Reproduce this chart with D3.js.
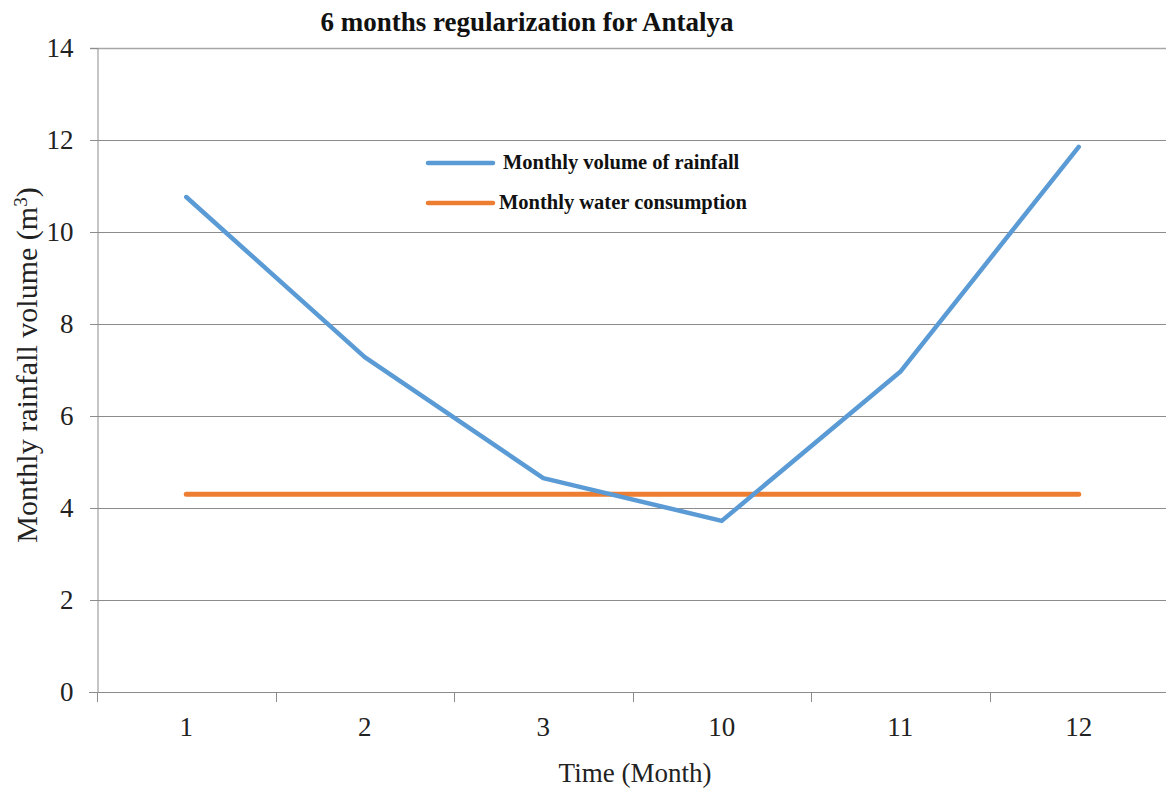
<!DOCTYPE html>
<html>
<head>
<meta charset="utf-8">
<script src="https://cdn.jsdelivr.net/npm/d3@7"></script>
<style>
  html, body { margin: 0; padding: 0; background: #fff; }
  svg { display: block; }
</style>
</head>
<body>
<svg id="chart" width="1166" height="790"></svg>
<script>
// Months shown on the axis
const months = ["1", "2", "3", "10", "11", "12"];
// Monthly volume of rainfall (m³)
const rainfall = [10.76, 7.28, 4.65, 3.72, 6.96, 11.85];
// Monthly water consumption (m³)
const consumption = [4.3, 4.3, 4.3, 4.3, 4.3, 4.3];
// Y axis ticks
const yTicks = [0, 2, 4, 6, 8, 10, 12, 14];

const svg = d3.select("#chart");
const serif = "'Liberation Serif', 'Times New Roman', serif";

const plotLeft = 97, plotRight = 1168, plotTop = 48, plotBottom = 692;

const x = d3.scaleBand().domain(months).range([plotLeft, plotRight]).padding(0);
const y = d3.scaleLinear().domain([0, 14]).range([plotBottom, plotTop]);
const cx = d => x(d) + x.bandwidth() / 2;

// Horizontal gridlines
svg.append("g")
  .selectAll("line")
  .data(yTicks.filter(t => t > 0))
  .join("line")
  .attr("x1", plotLeft - 7).attr("x2", 1166)
  .attr("y1", d => Math.round(y(d)) + 0.5).attr("y2", d => Math.round(y(d)) + 0.5)
  .attr("stroke", d => d === 14 ? "#a6a6a6" : "#8c8c8c")
  .attr("stroke-width", d => d === 14 ? 1.6 : 1);

// Y axis
const yAxis = svg.append("g")
  .attr("transform", `translate(${plotLeft + 0.5},0)`)
  .call(d3.axisLeft(y).tickValues(yTicks).tickSize(7).tickPadding(17));
yAxis.select(".domain").attr("stroke", "#8c8c8c");
yAxis.selectAll(".tick line").attr("stroke", "#8c8c8c");
yAxis.selectAll(".tick text")
  .attr("font-family", serif).attr("font-size", 27).attr("fill", "#222");

// X axis
const xAxis = svg.append("g")
  .attr("transform", `translate(0,${plotBottom + 0.5})`)
  .call(d3.axisBottom(x).tickSize(0).tickPadding(24));
xAxis.select(".domain").attr("stroke", "#8c8c8c").attr("d", `M${plotLeft - 8},0H1166`);
xAxis.selectAll(".tick text")
  .attr("font-family", serif).attr("font-size", 27).attr("fill", "#222");
// Category separator ticks
svg.append("g")
  .selectAll("line")
  .data(months)
  .join("line")
  .attr("x1", d => Math.round(x(d)) + 0.5).attr("x2", d => Math.round(x(d)) + 0.5)
  .attr("y1", plotBottom).attr("y2", plotBottom + 10)
  .attr("stroke", "#8c8c8c");

// Series lines
const line = d3.line().x((d, i) => cx(months[i])).y(d => y(d));
svg.append("path").datum(consumption)
  .attr("d", line).attr("fill", "none")
  .attr("stroke", "#ED7D31").attr("stroke-width", 5).attr("stroke-linecap", "round");
svg.append("path").datum(rainfall)
  .attr("d", line).attr("fill", "none")
  .attr("stroke", "#5B9BD5").attr("stroke-width", 4.5)
  .attr("stroke-linecap", "round").attr("stroke-linejoin", "round");

// Title
svg.append("text")
  .attr("x", 527).attr("y", 31).attr("text-anchor", "middle")
  .attr("font-family", serif).attr("font-weight", "bold").attr("font-size", 27)
  .attr("fill", "#111")
  .text("6 months regularization for Antalya");

// Axis titles
svg.append("text")
  .attr("x", 635).attr("y", 782).attr("text-anchor", "middle")
  .attr("font-family", serif).attr("font-size", 27).attr("fill", "#222")
  .text("Time (Month)");

const yt = svg.append("text")
  .attr("transform", "translate(37,365) rotate(-90)")
  .attr("text-anchor", "middle")
  .attr("font-family", serif).attr("font-size", 30).attr("fill", "#222");
yt.append("tspan").text("Monthly rainfall volume (m");
yt.append("tspan").attr("baseline-shift", "super").attr("font-size", 19).text("3");
yt.append("tspan").text(")");

// Legend
const legend = [
  { name: "Monthly volume of rainfall", color: "#5B9BD5", y: 163, tx: 503 },
  { name: "Monthly water consumption", color: "#ED7D31", y: 203, tx: 499 }
];
const lg = svg.append("g");
lg.selectAll("line")
  .data(legend).join("line")
  .attr("x1", 428).attr("x2", 493)
  .attr("y1", d => d.y).attr("y2", d => d.y)
  .attr("stroke", d => d.color).attr("stroke-width", 4.5).attr("stroke-linecap", "round");
lg.selectAll("text")
  .data(legend).join("text")
  .attr("x", d => d.tx).attr("y", d => d.y + 6)
  .attr("font-family", serif).attr("font-weight", "bold").attr("font-size", 20.5)
  .attr("fill", "#111")
  .text(d => d.name);
</script>
</body>
</html>
